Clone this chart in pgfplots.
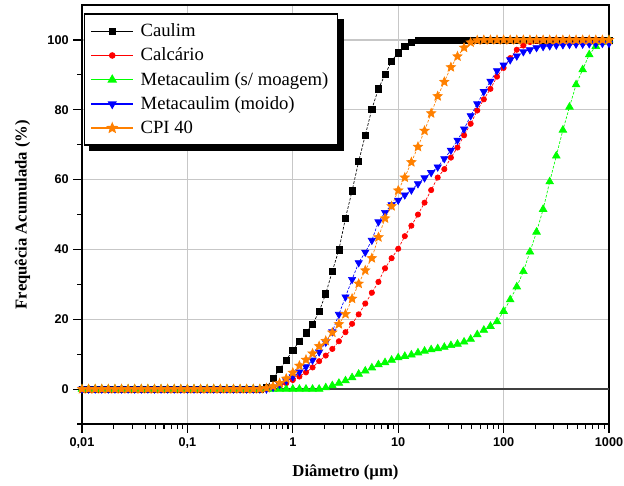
\documentclass[border=0pt]{standalone}
\usepackage{fontspec}
\setmainfont{Liberation Serif}
\setsansfont{Liberation Sans}
\usepackage{pgfplots}
\pgfplotsset{compat=1.18}
\usepackage{pgfplotstable}

\definecolor{cpi}{RGB}{255,128,0}
\definecolor{metag}{RGB}{0,255,0}

% filled five-pointed star
\pgfdeclareplotmark{fstar}{%
  \pgfpathmoveto{\pgfpointpolar{90}{\pgfplotmarksize}}%
  \pgfpathlineto{\pgfpointpolar{126}{0.45\pgfplotmarksize}}%
  \pgfpathlineto{\pgfpointpolar{162}{\pgfplotmarksize}}%
  \pgfpathlineto{\pgfpointpolar{198}{0.45\pgfplotmarksize}}%
  \pgfpathlineto{\pgfpointpolar{234}{\pgfplotmarksize}}%
  \pgfpathlineto{\pgfpointpolar{270}{0.45\pgfplotmarksize}}%
  \pgfpathlineto{\pgfpointpolar{306}{\pgfplotmarksize}}%
  \pgfpathlineto{\pgfpointpolar{342}{0.45\pgfplotmarksize}}%
  \pgfpathlineto{\pgfpointpolar{18}{\pgfplotmarksize}}%
  \pgfpathlineto{\pgfpointpolar{54}{0.45\pgfplotmarksize}}%
  \pgfpathclose\pgfusepathqfillstroke}

% x: diameter (um); K caulim, R calcario, G metacaulim s/ moagem, B metacaulim moido, O CPI 40
\pgfplotstableread{
x K R G B O
0.01 0 0 0 0 0
0.01155 0 0 0 0 0
0.01334 0 0 0 0 0
0.0154 0 0 0 0 0
0.01778 0 0 0 0 0
0.02054 0 0 0 0 0
0.02371 0 0 0 0 0
0.02738 0 0 0 0 0
0.03162 0 0 0 0 0
0.03652 0 0 0 0 0
0.04217 0 0 0 0 0
0.0487 0 0 0 0 0
0.05623 0 0 0 0 0
0.06494 0 0 0 0 0
0.07499 0 0 0 0 0
0.0866 0 0 0 0 0
0.1 0 0 0 0 0
0.1155 0 0 0 0 0
0.1334 0 0 0 0 0
0.154 0 0 0 0 0
0.1778 0 0 0 0 0
0.2054 0 0 0 0 0
0.2371 0 0 0 0 0
0.2738 0 0 0 0 0
0.3162 0 0 0 0 0
0.3652 0 0 0 0 0
0.4217 0 0 0 0 0
0.487 0 0 0 0 0
0.5623 0.5 0 0 0 0.3
0.6494 3.0 0.3 0 0.5 0.8
0.7499 5.7 0.9 0 1.3 1.7
0.866 8.3 1.7 0 2.4 3.0
1 11.1 2.6 0 3.5 4.7
1.155 13.7 3.6 0 4.9 6.7
1.334 16.1 4.8 0 6.4 8.4
1.54 18.6 6.2 0 8.3 10.2
1.778 22.2 8.0 0 10.6 12.3
2.054 27.3 9.6 0.4 13.4 13.8
2.371 33.8 11.5 1.0 16.4 16.2
2.738 39.9 13.7 1.7 21.4 18.6
3.162 49.0 16.3 2.4 26.4 21.5
3.652 56.8 18.7 3.3 31.4 25.9
4.217 65.2 21.4 4.3 36.2 30.2
4.87 72.7 24.5 5.2 39.2 34.0
5.623 80.2 27.6 6.1 42.6 37.5
6.494 86.0 30.7 7.0 47.9 43.5
7.499 90.1 34.6 7.6 50.6 48.9
8.66 94.0 37.5 8.3 52.8 52.4
10 96.3 40.2 9.0 54.1 56.9
11.55 98.1 43.8 9.4 55.6 60.6
13.34 99.3 46.8 9.8 57.0 65.0
15.4 99.9 50.0 10.4 58.8 69.4
17.78 100 53.4 10.9 60.5 74.0
20.54 100 57.0 11.3 62.0 79.0
23.71 100 60.6 11.6 63.6 83.9
27.38 100 63.0 12.0 66.0 88.0
31.62 100 66.3 12.5 68.4 92.2
36.52 100 69.2 12.9 71.3 95.3
42.17 100 72.7 13.5 74.5 97.8
48.7 100 76.0 14.3 78.3 99.3
56.23 100 79.8 15.6 81.7 99.9
64.94 100 83.0 16.9 85.2 100
74.99 100 86.0 18.0 88.2 100
86.6 100 89.5 19.3 91.2 100
100 100 92.0 22.3 92.8 100
115.5 100 94.8 25.6 94.3 100
133.4 100 97.2 29.3 95.4 100
154 100 98.4 33.7 96.6 100
177.8 100 99.4 39.3 97.2 100
205.4 100 99.8 45.0 97.8 100
237.1 100 100 51.5 98.1 100
273.8 100 100 59.4 98.3 100
316.2 100 100 66.8 98.5 100
365.2 100 100 74.2 98.6 100
421.7 100 100 80.8 98.7 100
487 100 100 87.2 98.8 100
562.3 100 100 91.5 98.8 100
649.4 100 100 95.8 98.9 100
749.9 100 100 98.2 98.9 100
866 100 100 99.4 99.0 100
1000 100 100 100 99.0 100
}\psd

\begin{document}
\begin{tikzpicture}
\useasboundingbox (-61.5pt,-45.75pt) rectangle (406.5pt,318pt);
\begin{axis}[
    at={(0,0)}, anchor=south west,
    scale only axis,
    width=395.25pt, height=314.2pt,
    xmode=log,
    xmin=0.01, xmax=1000,
    ymin=-10, ymax=110,
    xtick={0.01,0.1,1,10,100,1000},
    xticklabels={{0,01},{0,1},1,10,100,1000},
    ytick={0,20,40,60,80,100},
    minor ytick={-10,10,30,50,70,90},
    tick align=outside,
    xtick pos=bottom, ytick pos=left,
    major tick length=6.5pt, minor tick length=3.5pt,
    tick style={black, line width=0.8pt},
    axis line style={black, line width=1pt},
    grid=major,
    major grid style={black!22, line width=0.8pt},
    extra y ticks={0},
    extra y tick labels={},
    extra y tick style={major grid style={black!75, line width=1pt}},
    /pgf/number format/assume math mode=true,
    ticklabel style={font=\sffamily\bfseries\fontsize{9.5}{11}\selectfont},
    xlabel={Diâmetro (µm)},
    ylabel={Frequêcia Acumulada (\%)},
    label style={font=\bfseries\fontsize{12.5}{14}\selectfont},
    xlabel style={at={(axis description cs:0.5,-0.115)}, anchor=center},
    ylabel style={at={(axis description cs:-0.113,0.5)}, anchor=center},
    clip=false,
    legend style={
        name=leg,
        at={(axis description cs:0.003,0.98)}, anchor=north west,
        draw=black, line width=0.8pt, fill=white,
        font=\fontsize{14}{15.5}\selectfont,
        row sep=3pt, inner xsep=5pt, inner ysep=5.3pt,
        cells={anchor=west},
    },
    legend image code/.code={%
        \draw[mark repeat=2, mark phase=2, #1, solid, line width=0.9pt]
            plot coordinates {(0cm,0cm) (0.55cm,0cm) (1.1cm,0cm)};
        \path (1.22cm,0cm);},
    every axis plot/.append style={line width=0.5pt, dash pattern=on 2pt off 1.2pt, mark options={solid}},
]

\addplot[black, mark=square*, mark size=2.3pt] table[x=x, y=K] {\psd};
\addlegendentry{Caulim}

\addplot[red, mark=*, mark size=2pt] table[x=x, y=R] {\psd};
\addlegendentry{Calcário}

\addplot[metag, mark=triangle*, mark size=3.3pt] table[x=x, y=G] {\psd};
\addlegendentry{Metacaulim (s/ moagem)}

\addplot[blue, mark=triangle*, mark size=3.1pt, mark options={solid, rotate=180}] table[x=x, y=B] {\psd};
\addlegendentry{Metacaulim (moido)}

\addplot[cpi, mark=fstar, mark size=3.6pt] table[x=x, y=O] {\psd};
\addlegendentry{CPI 40}

\end{axis}
% legend drop shadow (right and bottom)
\fill[black] ([yshift=-4pt]leg.north east) rectangle ([xshift=4pt,yshift=-4pt]leg.south east);
\fill[black] ([xshift=4pt,yshift=-4pt]leg.south west) rectangle ([xshift=4pt]leg.south east);
\end{tikzpicture}
\end{document}
